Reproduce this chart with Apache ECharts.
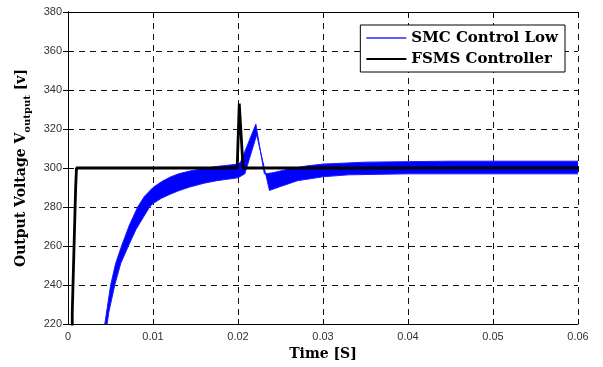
<!DOCTYPE html>
<html>
<head>
<meta charset="utf-8">
<script src="https://cdn.jsdelivr.net/npm/echarts@6/dist/echarts.min.js"></script>
<style>html,body{margin:0;padding:0;background:#fff;}#c{width:603px;height:367px;}</style>
</head>
<body>
<div id="c"></div>
<script>
// ---- data ----
var xTicks = [0, 0.01, 0.02, 0.03, 0.04, 0.05, 0.06];
var yTicks = [220, 240, 260, 280, 300, 320, 340, 360, 380];
var seriesNames = ['SMC Control Low', 'FSMS Controller'];

// SMC ripple band: upper and lower envelope [time, voltage]
var smcUpper = [
  [0.00433, 220], [0.0045, 225], [0.00502, 240], [0.0056, 251], [0.0063, 260], [0.0072, 270.5],
  [0.0082, 280], [0.009, 285.5], [0.010, 290], [0.011, 293], [0.012, 295.3], [0.013, 297],
  [0.0143, 298.4], [0.016, 299.8], [0.0175, 300.8], [0.019, 301.5],
  [0.0200, 302], [0.0203, 303], [0.0221, 322.5], [0.0231, 297], [0.0240, 297.5],
  [0.026, 299.5], [0.028, 301], [0.030, 302], [0.035, 303], [0.045, 303.5], [0.060, 303.5]
];
var smcLower = [
  [0.0046, 220], [0.0048, 226], [0.0055, 240], [0.0062, 251], [0.0071, 260], [0.008, 268.5],
  [0.0089, 275], [0.0096, 280], [0.010, 281.8], [0.011, 284.5], [0.012, 286.5], [0.013, 288.3],
  [0.0143, 290.2], [0.016, 292.2], [0.0175, 293.5], [0.019, 294.4], [0.0200, 295],
  [0.0208, 297], [0.0222, 317], [0.0237, 288.5], [0.025, 290.5], [0.027, 293.5],
  [0.030, 295.5], [0.033, 296.5], [0.040, 297], [0.060, 297]
];
// FSMS controller trace [time, voltage]
var fsms = [
  [0, 215], [0.0005, 215], [0.0005, 226], [0.0007, 227], [0.0007, 258], [0.0009, 259],
  [0.0009, 290], [0.0010, 300], [0.0199, 300], [0.02015, 333], [0.0203, 332.5],
  [0.0206, 300], [0.060, 300]
];

var chart = echarts.init(document.getElementById('c'), null, {renderer: 'canvas'});
var serif = '"DejaVu Serif", "Liberation Serif", serif';
var sans = '"Liberation Sans", Arial, sans-serif';

function axisCommon(extra) {
  var o = {
    type: 'value',
    axisLine: {show: true, lineStyle: {color: '#000', width: 1}},
    axisTick: {show: true, inside: true, length: 5, lineStyle: {color: '#000'}},
    splitLine: {show: false},
    axisLabel: {show: false}
  };
  for (var k in extra) o[k] = extra[k];
  return o;
}

var option = {
  animation: false,
  backgroundColor: '#fff',
  grid: {left: 68, right: 25, top: 12, bottom: 43, containLabel: false},
  legend: {
    orient: 'vertical',
    right: 38, top: 25,
    backgroundColor: '#fff',
    borderColor: '#000', borderWidth: 1,
    borderRadius: 0,
    padding: [4, 7, 4, 6],
    itemGap: 3,
    itemWidth: 40, itemHeight: 2,
    textStyle: {fontFamily: serif, fontWeight: 'bold', fontSize: 15, lineHeight: 18, color: '#000'},
    data: [
      {name: seriesNames[0], icon: 'rect', itemStyle: {color: '#6060ff'}},
      {name: seriesNames[1], icon: 'rect', itemStyle: {color: '#000'}}
    ]
  },
  xAxis: [
    axisCommon({
      min: xTicks[0], max: xTicks[xTicks.length - 1], interval: 0.01,
      position: 'bottom',
      axisLabel: {show: true, color: '#333', fontFamily: sans, fontSize: 11, margin: 7,
        formatter: function (v) { return String(+v.toFixed(2)); }},
      splitLine: {show: true, lineStyle: {color: '#111', type: [6, 5], width: 1}},
      name: 'Time [S]', nameLocation: 'middle', nameGap: 21,
      nameTextStyle: {fontFamily: serif, fontWeight: 'bold', fontSize: 14, color: '#000'}
    }),
    axisCommon({
      min: xTicks[0], max: xTicks[xTicks.length - 1], interval: 0.01, position: 'top'
    })
  ],
  yAxis: [
    axisCommon({
      min: yTicks[0], max: yTicks[yTicks.length - 1], interval: 20,
      position: 'left',
      axisLabel: {show: true, color: '#333', fontFamily: sans, fontSize: 11, margin: 6},
      splitLine: {show: true, lineStyle: {color: '#111', type: [6, 5], width: 1}},
      name: '{m|Output Voltage V}{s|output}{m| [v]}',
      nameLocation: 'middle', nameGap: 40, nameRotate: 90,
      nameTextStyle: {
        rich: {
          m: {fontFamily: serif, fontWeight: 'bold', fontSize: 14, color: '#000', verticalAlign: 'bottom', lineHeight: 20},
          s: {fontFamily: serif, fontWeight: 'bold', fontSize: 10, color: '#000', verticalAlign: 'bottom', lineHeight: 14, padding: [0, 0, -4, 0]}
        }
      }
    }),
    axisCommon({
      min: yTicks[0], max: yTicks[yTicks.length - 1], interval: 20, position: 'right'
    })
  ],
  series: [
    {
      name: seriesNames[0],
      type: 'custom',
      clip: true,
      xAxisIndex: 0, yAxisIndex: 0,
      z: 2,
      data: [[smcUpper[0][0], smcUpper[0][1]]],
      renderItem: function (params, api) {
        var pts = [];
        for (var i = 0; i < smcUpper.length; i++) pts.push(api.coord(smcUpper[i]));
        for (var j = smcLower.length - 1; j >= 0; j--) pts.push(api.coord(smcLower[j]));
        return {
          type: 'polygon',
          shape: {points: pts},
          style: {fill: '#0000ff', stroke: '#1a1aff', lineWidth: 1}
        };
      }
    },
    {
      name: seriesNames[1],
      type: 'line',
      xAxisIndex: 0, yAxisIndex: 0,
      z: 3,
      data: fsms,
      showSymbol: false,
      symbol: 'none',
      clip: true,
      lineStyle: {color: '#000', width: 2.8},
      itemStyle: {color: '#000'}
    }
  ]
};
chart.setOption(option);
</script>
</body>
</html>
